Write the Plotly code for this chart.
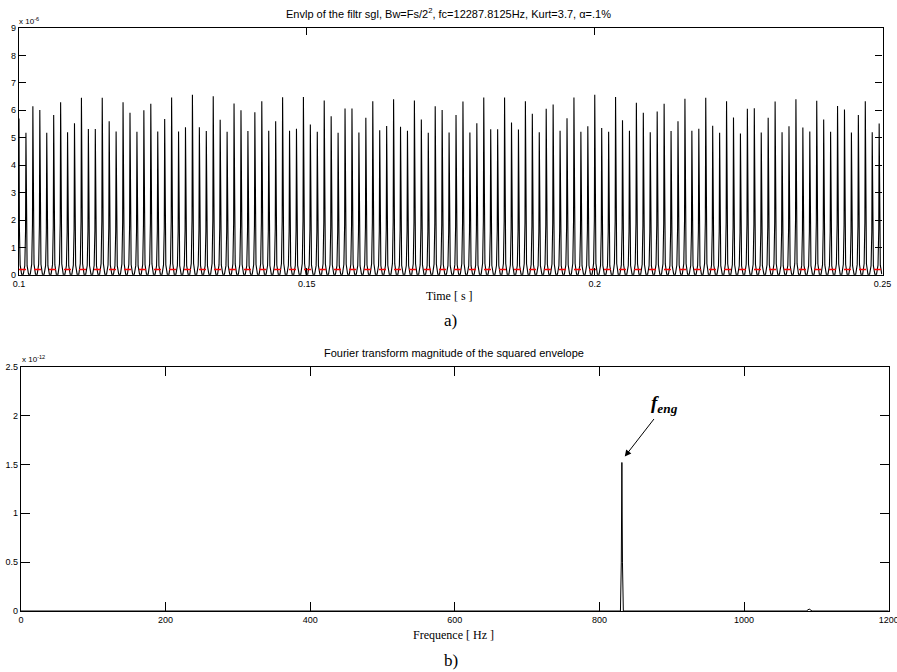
import plotly.graph_objects as go

# ---------------- data ----------------
# (a) envelope: peak heights in units of 1e-6, regularly spaced peaks
peak_heights = [
    5.70, 5.18, 6.15, 6.01, 5.18, 5.83, 6.29, 5.20, 5.53, 6.46, 5.32, 5.32, 6.46,
    5.60, 5.23, 6.29, 5.91, 5.22, 6.00, 6.24, 5.23, 5.68, 6.47, 5.23, 5.38, 6.57,
    5.38, 5.25, 6.51, 5.66, 5.22, 6.25, 6.00, 5.25, 5.93, 6.33, 5.26, 5.60, 6.48,
    5.26, 5.33, 6.49, 5.48, 5.22, 6.36, 5.78, 5.18, 6.07, 6.07, 5.19, 5.73,
    6.33, 5.27, 5.43, 6.40, 5.40, 5.26, 6.36, 5.67, 5.18, 6.15, 6.01, 5.19, 5.83,
    6.32, 5.19, 5.53, 6.47, 5.31, 5.31, 6.47, 5.56, 5.30, 6.33, 5.88, 5.20,
    6.06, 6.21, 5.26, 5.71, 6.47, 5.22, 5.42, 6.57, 5.36, 5.22, 6.49, 5.64, 5.26,
    6.28, 5.91, 5.20, 5.96, 6.24, 5.25, 5.60, 6.42, 5.26, 5.33, 6.46, 5.44, 5.18,
    6.33, 5.74, 5.16, 6.06, 6.08, 5.19, 5.73, 6.32, 5.20, 5.42, 6.40, 5.37, 5.23,
    6.35, 5.67, 5.22, 6.16, 6.03, 5.19, 5.83, 6.33, 5.20, 5.52,
]
peak_t0 = 0.1          # s
peak_period = 0.001205 # s
env_base = 0.03        # x1e-6
threshold = 0.2        # x1e-6 (red dashed)

# (b) spectrum of squared envelope, units of 1e-12
spec_freq = [0, 829, 830.2, 831, 831.8, 833, 1086, 1090, 1094, 1200]
spec_mag = [0, 0, 0.5, 1.52, 0.5, 0, 0, 0.02, 0, 0]

top_xticks = [0.1, 0.15, 0.2, 0.25]
top_xticklabels = ["0.1", "0.15", "0.2", "0.25"]
top_yticks = [0, 1, 2, 3, 4, 5, 6, 7, 8, 9]
bot_xticks = [0, 200, 400, 600, 800, 1000, 1200]
bot_yticks = [0, 0.5, 1, 1.5, 2, 2.5]

# peak shape (relative)
shape_off = [-0.00045, -0.0002, -0.00007, 0.0, 0.00007, 0.0002, 0.00045]
shape_frac = [0.0, 0.06, 0.3, 1.0, 0.3, 0.06, 0.0]

env_t, env_v = [], []
for i, h in enumerate(peak_heights):
    tc = peak_t0 + i * peak_period
    for o, f in zip(shape_off, shape_frac):
        env_t.append(tc + o)
        env_v.append(env_base + f * (h - env_base))

W, H = 897, 672
def px(x):
    return x / W
def py(y):
    return 1 - y / H

SANS = "Liberation Sans, Arial, sans-serif"
SERIF = "Liberation Serif, Times New Roman, serif"

fig = go.Figure()
fig.add_trace(go.Scatter(x=env_t, y=env_v, mode="lines",
                         line=dict(color="black", width=1.1),
                         xaxis="x", yaxis="y", showlegend=False, hoverinfo="skip"))
fig.add_trace(go.Scatter(x=[0.1, 0.25], y=[threshold, threshold], mode="lines",
                         line=dict(color="#ff0000", width=1.5, dash="7px,8px"),
                         xaxis="x", yaxis="y", showlegend=False, hoverinfo="skip"))
fig.add_trace(go.Scatter(x=spec_freq, y=spec_mag, mode="lines",
                         line=dict(color="black", width=1),
                         xaxis="x2", yaxis="y2", showlegend=False, hoverinfo="skip"))

axcommon = dict(showline=True, linecolor="black", linewidth=1.3, mirror="ticks",
                ticks="inside", tickcolor="black", showgrid=False, zeroline=False,
                automargin=False, ticklabeloverflow="allow",
                tickfont=dict(family=SANS, size=9, color="black"))

fig.update_layout(
    template="none",
    width=W, height=H, margin=dict(l=0, r=0, t=0, b=0, pad=0, autoexpand=False),
    paper_bgcolor="white", plot_bgcolor="white",
    xaxis=dict(domain=[px(19), px(882.5)], anchor="y", range=[0.1, 0.25],
               tickvals=top_xticks, ticktext=top_xticklabels, ticklen=7, **axcommon),
    yaxis=dict(domain=[py(275), py(28)], anchor="x", range=[0, 9],
               tickvals=top_yticks, ticklen=7, **axcommon),
    xaxis2=dict(domain=[px(21), px(888.7)], anchor="y2", range=[0, 1200],
                tickvals=bot_xticks, ticklen=9, **axcommon),
    yaxis2=dict(domain=[py(611), py(366.7)], anchor="x2", range=[0, 2.5],
                tickvals=bot_yticks, ticklen=9, **axcommon),
)

ann = []
def txt(x, y, text, size, family=SANS, xanchor="center", yanchor="middle"):
    ann.append(dict(x=px(x), y=py(y), xref="paper", yref="paper", text=text,
                    showarrow=False, xanchor=xanchor, yanchor=yanchor,
                    font=dict(family=family, size=size, color="black")))

txt(448.5, 13, "Envlp of the filtr sgl, Bw=Fs/2<sup>2</sup>, fc=12287.8125Hz, Kurt=3.7, α=.1%", 11)
txt(17, 21, "x 10<sup>-6</sup>", 8, xanchor="left")
txt(449, 296, "Time [ s ]", 12, family=SERIF)
txt(450, 320, "a)", 17, family=SERIF)
txt(453.5, 353, "Fourier transform magnitude of the squared envelope", 11)
txt(20, 359, "x 10<sup>-12</sup>", 8, xanchor="left")
txt(454, 635, "Frequence [ Hz ]", 12, family=SERIF)
txt(451, 660, "b)", 17, family=SERIF)

# f_eng label and arrow
ann.append(dict(x=890, y=2.12, xref="x2", yref="y2",
                text="<b><i>f</i></b><sub><b><i>eng</i></b></sub>",
                showarrow=False, font=dict(family=SERIF, size=19, color="black")))
ann.append(dict(x=835, y=1.58, xref="x2", yref="y2", ax=877, ay=1.98,
                axref="x2", ayref="y2", text="", showarrow=True,
                arrowhead=2, arrowsize=1.3, arrowwidth=1, arrowcolor="black"))
fig.update_layout(annotations=ann)

fig.write_html("out.html")
